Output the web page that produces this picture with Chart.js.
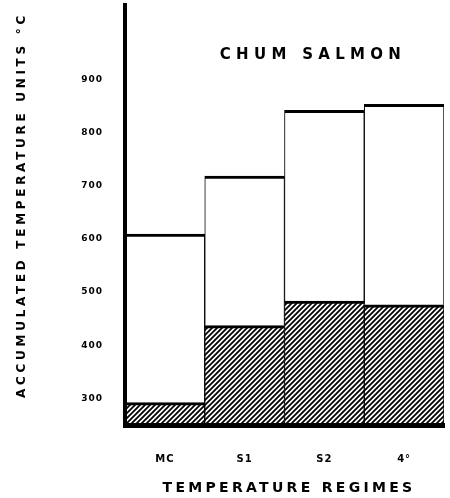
<!DOCTYPE html>
<html><head><meta charset="utf-8">
<script src="https://cdn.jsdelivr.net/npm/chart.js@4"></script>
<style>html,body{margin:0;padding:0;background:#fff}</style>
</head><body>
<canvas id="c" width="450" height="498"></canvas>
<script>
// ---- data ----
const categories = ['MC', 'S1', 'S2', '4°'];
const hatchedSegment = [292, 437, 483, 476];   // lower (hatched) part
const openSegment = [317, 281, 359, 377];      // upper (white) part, stacked on hatched
const yTicks = [300, 400, 500, 600, 700, 800, 900];
const chartTitle = 'CHUM SALMON';
const yTitle = 'ACCUMULATED TEMPERATURE UNITS °C';
const xTitle = 'TEMPERATURE REGIMES';

const FONT = '"DejaVu Sans", sans-serif';

function makeHatch() {
  const p = 5;
  const c = document.createElement('canvas');
  c.width = p; c.height = p;
  const g = c.getContext('2d');
  g.fillStyle = '#fff'; g.fillRect(0, 0, p, p);
  g.strokeStyle = '#000'; g.lineWidth = 1.8; g.lineCap = 'square';
  g.beginPath();
  g.moveTo(0, p); g.lineTo(p, 0);
  g.moveTo(-1, 1); g.lineTo(1, -1);
  g.moveTo(p - 1, p + 1); g.lineTo(p + 1, p - 1);
  g.stroke();
  return g.createPattern(c, 'repeat');
}

const textPlugin = {
  id: 'texts',
  beforeDraw(chart) {
    const ctx = chart.ctx;
    ctx.save();
    ctx.fillStyle = '#fff';
    ctx.fillRect(0, 0, chart.width, chart.height);
    ctx.restore();
    ctx.letterSpacing = '1px';
  },
  afterDraw(chart) {
    const ctx = chart.ctx;
    ctx.save();
    ctx.fillStyle = '#000';
    ctx.textAlign = 'center';
    ctx.textBaseline = 'middle';
    // chart title inside the plot
    ctx.font = 'bold 15px ' + FONT;
    ctx.letterSpacing = '5.3px';
    ctx.fillText(chartTitle, 313, 55);
    // x title
    ctx.font = 'bold 14px ' + FONT;
    ctx.letterSpacing = '3.3px';
    ctx.fillText(xTitle, 289, 488);
    // y title
    ctx.translate(22, 205);
    ctx.rotate(-Math.PI / 2);
    ctx.font = 'bold 12px ' + FONT;
    ctx.letterSpacing = '3.7px';
    ctx.fillText(yTitle, 0, 0);
    ctx.restore();
  }
};

const hatch = makeHatch();

new Chart(document.getElementById('c'), {
  type: 'bar',
  data: {
    labels: categories,
    datasets: [
      {
        data: hatchedSegment,
        backgroundColor: hatch,
        borderColor: '#000',
        borderWidth: {top: 3, left: 1, right: 1, bottom: 0},
        borderSkipped: false,
        categoryPercentage: 1, barPercentage: 1
      },
      {
        data: openSegment,
        backgroundColor: '#fff',
        borderColor: '#000',
        borderWidth: {top: 3, left: 1, right: 1, bottom: 0},
        borderSkipped: false,
        categoryPercentage: 1, barPercentage: 1
      }
    ]
  },
  options: {
    responsive: false,
    animation: false,
    devicePixelRatio: 1,
    layout: {padding: {top: 5, right: 6, left: 0, bottom: 0}},
    plugins: {legend: {display: false}, tooltip: {enabled: false}, title: {display: false}},
    scales: {
      x: {
        stacked: true,
        grid: {display: false, drawTicks: false},
        border: {display: true, color: '#000', width: 5, z: 2},
        ticks: {color: '#000', font: {family: FONT, size: 10, weight: 'bold'}, padding: 28, maxRotation: 0},
        afterFit(s) { s.height = 73; s.paddingLeft = 0; s.paddingRight = 0; }
      },
      y: {
        stacked: true,
        min: 250, max: 1040,
        grid: {display: false, drawTicks: false},
        border: {display: true, color: '#000', width: 4, z: 2},
        ticks: {color: '#000', font: {family: FONT, size: 9, weight: 'bold'}, padding: 22},
        afterBuildTicks(s) { s.ticks = yTicks.map(v => ({value: v})); },
        afterFit(s) { s.width = 125; s.paddingTop = 0; s.paddingBottom = 0; }
      }
    }
  },
  plugins: [textPlugin]
});
</script>
</body></html>
